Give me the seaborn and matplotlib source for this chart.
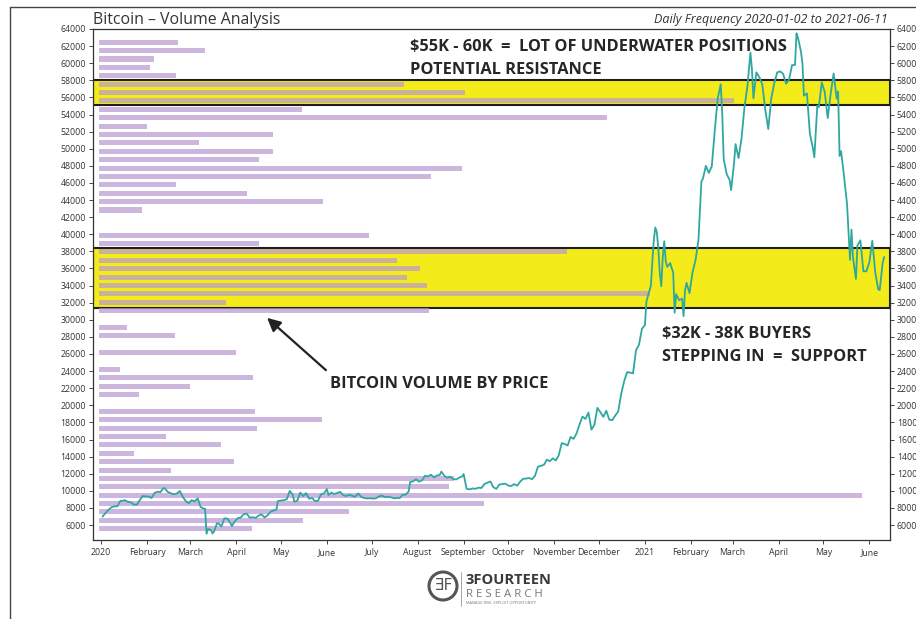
import matplotlib
matplotlib.use("Agg")
import matplotlib.pyplot as plt
import matplotlib.dates as mdates
from matplotlib.patches import Circle, FancyArrowPatch
from matplotlib.lines import Line2D
import pandas as pd
import seaborn as sns

# Cours de cloture BTC (un point tous les 2-3 jours)
price_dates = [
    "2020-01-02", "2020-01-04", "2020-01-06", "2020-01-08", "2020-01-10", "2020-01-12", "2020-01-14",
    "2020-01-15", "2020-01-17", "2020-01-19", "2020-01-21", "2020-01-23", "2020-01-25", "2020-01-27",
    "2020-01-29", "2020-01-31", "2020-02-02", "2020-02-04", "2020-02-06", "2020-02-08", "2020-02-10",
    "2020-02-12", "2020-02-13", "2020-02-15", "2020-02-17", "2020-02-19", "2020-02-21", "2020-02-23",
    "2020-02-25", "2020-02-27", "2020-02-29", "2020-03-02", "2020-03-04", "2020-03-06", "2020-03-08",
    "2020-03-10", "2020-03-11", "2020-03-12", "2020-03-13", "2020-03-15", "2020-03-16", "2020-03-17",
    "2020-03-19", "2020-03-20", "2020-03-22", "2020-03-24", "2020-03-26", "2020-03-28", "2020-03-29",
    "2020-03-31", "2020-04-02", "2020-04-04", "2020-04-06", "2020-04-08", "2020-04-10", "2020-04-12",
    "2020-04-14", "2020-04-16", "2020-04-18", "2020-04-20", "2020-04-22", "2020-04-24", "2020-04-26",
    "2020-04-28", "2020-04-29", "2020-05-01", "2020-05-03", "2020-05-05", "2020-05-07", "2020-05-09",
    "2020-05-10", "2020-05-12", "2020-05-14", "2020-05-16", "2020-05-18", "2020-05-20", "2020-05-22",
    "2020-05-24", "2020-05-26", "2020-05-28", "2020-05-30", "2020-06-01", "2020-06-02", "2020-06-04",
    "2020-06-06", "2020-06-08", "2020-06-10", "2020-06-12", "2020-06-14", "2020-06-16", "2020-06-18",
    "2020-06-20", "2020-06-22", "2020-06-24", "2020-06-26", "2020-06-28", "2020-06-30", "2020-07-02",
    "2020-07-04", "2020-07-06", "2020-07-08", "2020-07-10", "2020-07-12", "2020-07-14", "2020-07-16",
    "2020-07-18", "2020-07-20", "2020-07-22", "2020-07-24", "2020-07-26", "2020-07-27", "2020-07-29",
    "2020-07-31", "2020-08-02", "2020-08-04", "2020-08-06", "2020-08-08", "2020-08-10", "2020-08-12",
    "2020-08-14", "2020-08-16", "2020-08-17", "2020-08-19", "2020-08-21", "2020-08-23", "2020-08-25",
    "2020-08-27", "2020-08-29", "2020-08-31", "2020-09-01", "2020-09-03", "2020-09-05", "2020-09-07",
    "2020-09-09", "2020-09-11", "2020-09-13", "2020-09-15", "2020-09-17", "2020-09-19", "2020-09-21",
    "2020-09-23", "2020-09-25", "2020-09-27", "2020-09-29", "2020-10-01", "2020-10-03", "2020-10-05",
    "2020-10-07", "2020-10-09", "2020-10-11", "2020-10-13", "2020-10-15", "2020-10-17", "2020-10-19",
    "2020-10-21", "2020-10-23", "2020-10-25", "2020-10-27", "2020-10-29", "2020-10-31", "2020-11-02",
    "2020-11-04", "2020-11-06", "2020-11-08", "2020-11-10", "2020-11-12", "2020-11-14", "2020-11-16",
    "2020-11-18", "2020-11-20", "2020-11-22", "2020-11-24", "2020-11-26", "2020-11-28", "2020-11-30",
    "2020-12-02", "2020-12-04", "2020-12-06", "2020-12-08", "2020-12-10", "2020-12-12", "2020-12-14",
    "2020-12-16", "2020-12-18", "2020-12-20", "2020-12-22", "2020-12-24", "2020-12-26", "2020-12-28",
    "2020-12-30", "2021-01-01", "2021-01-02", "2021-01-03", "2021-01-05", "2021-01-06", "2021-01-07",
    "2021-01-08", "2021-01-09", "2021-01-10", "2021-01-11", "2021-01-12", "2021-01-13", "2021-01-14",
    "2021-01-15", "2021-01-16", "2021-01-18", "2021-01-19", "2021-01-20", "2021-01-21", "2021-01-22",
    "2021-01-24", "2021-01-26", "2021-01-27", "2021-01-28", "2021-01-29", "2021-01-31", "2021-02-02",
    "2021-02-04", "2021-02-06", "2021-02-08", "2021-02-09", "2021-02-11", "2021-02-13", "2021-02-15",
    "2021-02-17", "2021-02-19", "2021-02-21", "2021-02-22", "2021-02-23", "2021-02-25", "2021-02-27",
    "2021-02-28", "2021-03-02", "2021-03-03", "2021-03-05", "2021-03-07", "2021-03-09", "2021-03-11",
    "2021-03-13", "2021-03-14", "2021-03-15", "2021-03-17", "2021-03-19", "2021-03-21", "2021-03-23",
    "2021-03-25", "2021-03-27", "2021-03-29", "2021-03-31", "2021-04-02", "2021-04-04", "2021-04-06",
    "2021-04-08", "2021-04-10", "2021-04-12", "2021-04-13", "2021-04-14", "2021-04-16", "2021-04-17",
    "2021-04-18", "2021-04-20", "2021-04-22", "2021-04-24", "2021-04-25", "2021-04-27", "2021-04-28",
    "2021-04-30", "2021-05-02", "2021-05-04", "2021-05-06", "2021-05-08", "2021-05-10", "2021-05-11",
    "2021-05-12", "2021-05-13", "2021-05-15", "2021-05-17", "2021-05-19", "2021-05-20", "2021-05-21",
    "2021-05-23", "2021-05-24", "2021-05-26", "2021-05-28", "2021-05-30", "2021-06-01", "2021-06-03",
    "2021-06-05", "2021-06-07", "2021-06-08", "2021-06-10", "2021-06-11",
]
price_close = [
    6985, 7410, 7770, 8080, 8190, 8190, 8830,
    8810, 8910, 8700, 8650, 8400, 8370, 8900,
    9390, 9350, 9340, 9160, 9750, 9890, 9850,
    10330, 10270, 9860, 9700, 9600, 9670, 9980,
    9320, 8790, 8540, 8910, 8760, 9120, 8110,
    7920, 7910, 4970, 5560, 5390, 5010, 5230,
    6190, 6200, 5830, 6780, 6760, 6250, 5880,
    6440, 6800, 6870, 7270, 7340, 6860, 6910,
    6840, 7100, 7260, 6880, 7130, 7550, 7690,
    7790, 8800, 8860, 8900, 9030, 9990, 9550,
    8730, 8820, 9790, 9380, 9730, 9080, 9170,
    8790, 8840, 9580, 9700, 10200, 9520, 9790,
    9620, 9760, 9870, 9480, 9390, 9530, 9410,
    9300, 9690, 9310, 9160, 9110, 9140, 9090,
    9130, 9350, 9430, 9280, 9300, 9250, 9130,
    9170, 9160, 9540, 9550, 9930, 11030, 11110,
    11350, 11070, 11230, 11760, 11680, 11880, 11580,
    11790, 11870, 12250, 11760, 11520, 11650, 11370,
    11330, 11540, 11680, 11970, 10240, 10170, 10280,
    10240, 10370, 10330, 10790, 10950, 11090, 10420,
    10230, 10730, 10780, 10840, 10620, 10550, 10790,
    10600, 11060, 11400, 11430, 11500, 11360, 11750,
    12820, 12930, 13030, 13650, 13460, 13800, 13550,
    14150, 15570, 15480, 15300, 16300, 16070, 16720,
    17780, 18680, 18410, 19160, 17150, 17730, 19700,
    19200, 18650, 19360, 18320, 18260, 18800, 19270,
    21310, 22800, 23870, 23820, 23740, 26440, 27080,
    28950, 29370, 32130, 32780, 33990, 36820, 39370,
    40800, 40250, 38360, 35500, 33920, 37320, 39190,
    36830, 36180, 36630, 36050, 35550, 30820, 33010,
    32290, 32480, 30430, 33470, 34320, 33110, 35510,
    36940, 39270, 46200, 46480, 48000, 47170, 47950,
    52150, 55890, 57540, 54210, 48820, 47050, 46340,
    45160, 48380, 50540, 48910, 51200, 54880, 57330,
    61240, 59300, 55900, 58930, 58350, 57520, 54530,
    52300, 55860, 57640, 58920, 59040, 58760, 57600,
    58090, 59770, 59800, 63500, 62970, 61340, 60000,
    56200, 56470, 51770, 50100, 49000, 55030, 54840,
    57750, 56620, 53580, 56440, 58800, 55860, 56700,
    49150, 49720, 46760, 43540, 37000, 40540, 37300,
    34770, 38700, 39290, 35680, 35660, 36690, 39240,
    35520, 33560, 33470, 36690, 37340,
]

# Volume par niveau de prix (indice relatif, la plus grosse barre = 100)
price_levels = [
    5567, 6548, 7529, 8509, 9490, 10471, 11452, 12433, 13413, 14394,
    15375, 16356, 17337, 18317, 19298, 20279, 21260, 22241, 23221, 24202,
    25183, 26164, 27145, 28125, 29106, 30087, 31068, 32049, 33029, 34010,
    34991, 35972, 36953, 37933, 38914, 39895, 40876, 41857, 42837, 43818,
    44799, 45780, 46761, 47741, 48722, 49703, 50684, 51665, 52645, 53626,
    54607, 55588, 56569, 57549, 58530, 59511, 60492, 61473, 62453,
]
volume_index = [
    20.1, 26.7, 32.8, 50.5, 100.0, 45.9, 46.5, 9.4, 17.7, 4.6,
    16.0, 8.8, 20.7, 29.2, 20.4, 0.0, 5.2, 11.9, 20.2, 2.8,
    0.0, 18.0, 0.0, 10.0, 3.7, 0.0, 43.2, 16.6, 72.3, 43.0,
    40.4, 42.1, 39.1, 61.3, 21.0, 35.4, 0.0, 0.0, 5.6, 29.4,
    19.4, 10.1, 43.5, 47.6, 21.0, 22.8, 13.1, 22.8, 6.3, 66.6,
    26.6, 83.2, 48.0, 40.0, 10.1, 6.7, 7.2, 13.9, 10.4,
]

# zones surlignees (bas, haut)
zone_resistance = (55100, 58000)
zone_support = (31400, 38400)

y_ticks = list(range(6000, 64001, 2000))

LINE_COLOR = "#2fa7a1"
BAR_COLOR = "#b898d1"
YELLOW = "#f3ec1a"
TEXT_DARK = "#262626"

W, H = 916, 619

sns.set_style("white")
plt.rcParams["font.family"] = ["Open Sans", "DejaVu Sans"]

fig = plt.figure(figsize=(W / 100, H / 100), dpi=100)
# axe principal : zones + volume par prix (x = volume)
ax = fig.add_axes([93 / W, 1 - 540 / H, (890 - 93) / W, (540 - 29) / H])

for lo, hi in [zone_resistance, zone_support]:
    ax.axhspan(lo, hi, facecolor=YELLOW, edgecolor="#1e1e1e", linewidth=1.5, zorder=0.5)

half = (price_levels[-1] - price_levels[0]) / (len(price_levels) - 1) / 2
sns.histplot(y=price_levels, weights=volume_index, bins=len(price_levels),
             binrange=(price_levels[0] - half, price_levels[-1] + half),
             shrink=0.6, color=BAR_COLOR, alpha=0.7, edgecolor="none", linewidth=0, ax=ax)
ax.set_xlim(-0.79, 103.7)
ax.xaxis.set_visible(False)

# axe des dates pour le cours, au-dessus des barres
axl = ax.twiny()
dates = pd.to_datetime(pd.Series(price_dates))
sns.lineplot(x=dates, y=price_close, ax=axl, color=LINE_COLOR, linewidth=1.3)
axl.set_xlim(pd.Timestamp("2019-12-26 14:00"), pd.Timestamp("2021-06-14 22:00"))
axl.xaxis.tick_bottom()
axl.set_xlabel("")
for s in axl.spines.values():
    s.set_visible(False)

ax.set_ylim(4250, 64000)
ax.set_ylabel("")
ax.set_yticks(y_ticks)
ax.set_yticklabels([str(v) for v in y_ticks])

axl.xaxis.set_major_locator(mdates.MonthLocator())
axl.xaxis.set_major_formatter(plt.FuncFormatter(
    lambda v, p: mdates.num2date(v).strftime("%Y") if mdates.num2date(v).month == 1
    else mdates.num2date(v).strftime("%B")))
axl.tick_params(axis="x", labelsize=6.3, labelcolor="#333333", color="#444444",
                length=3, width=0.7, direction="out", pad=3, bottom=True, top=False,
                labelbottom=True, labeltop=False)
ax.tick_params(axis="y", labelsize=6.3, labelcolor="#333333", color="#444444",
               length=3, width=0.7, direction="out", left=True, right=True,
               labelleft=True, labelright=True, pad=2)
for s in ax.spines.values():
    s.set_color("#333333")
    s.set_linewidth(0.9)

# titres
fig.text(93 / W, 1 - 24 / H, "Bitcoin \u2013 Volume Analysis", fontsize=11.4,
         color="#333333", va="baseline", ha="left")
fig.text(888 / W, 1 - 23 / H, "Daily Frequency 2020-01-02 to 2021-06-11", fontsize=9.0,
         style="italic", color="#333333", va="baseline", ha="right")

# annotations
note = dict(fontsize=11.8, fontweight="bold", color=TEXT_DARK, va="baseline", ha="left")
fig.text(410 / W, 1 - 51 / H, "$55K - 60K  =  LOT OF UNDERWATER POSITIONS", **note)
fig.text(410 / W, 1 - 74 / H, "POTENTIAL RESISTANCE", **note)
fig.text(662 / W, 1 - 338 / H, "$32K - 38K BUYERS", **note)
fig.text(662 / W, 1 - 361 / H, "STEPPING IN  =  SUPPORT", **note)
fig.text(330 / W, 1 - 388 / H, "BITCOIN VOLUME BY PRICE", **note)
fig.add_artist(FancyArrowPatch(
    (328, H - 372), (265, H - 316), transform=None, arrowstyle="-|>,head_length=8,head_width=4",
    color="#222222", linewidth=1.6))

# logo
fig.add_artist(Circle((443, H - 586), 14, transform=None, fill=False,
                      edgecolor="#555555", linewidth=2.2))
fig.text(443 / W, 1 - 586 / H, "\u018eF", fontsize=11, color="#555555",
         ha="center", va="center", family="DejaVu Sans")
fig.add_artist(Line2D([461 / W, 461 / W], [1 - 572 / H, 1 - 606 / H], color="#999999", linewidth=0.6))
fig.text(466 / W, 1 - 584 / H, "3FOURTEEN", fontsize=10.5, fontweight="bold", color="#3a3a3a",
         va="baseline", ha="left")
fig.text(466 / W, 1 - 597 / H, "R E S E A R C H", fontsize=8.2, color="#777777",
         va="baseline", ha="left")
fig.text(466 / W, 1 - 604 / H, "MANAGE RISK. EXPLOIT OPPORTUNITY", fontsize=2.8, color="#777777",
         va="baseline", ha="left")

# cadre de la capture
fig.add_artist(Line2D([10 / W, 1.0], [1 - 7 / H, 1 - 7 / H], color="#444444", linewidth=1.0))
fig.add_artist(Line2D([10 / W, 10 / W], [0.0, 1 - 7 / H], color="#444444", linewidth=1.0))

fig.savefig("out.png", dpi=100)
plt.close(fig)
